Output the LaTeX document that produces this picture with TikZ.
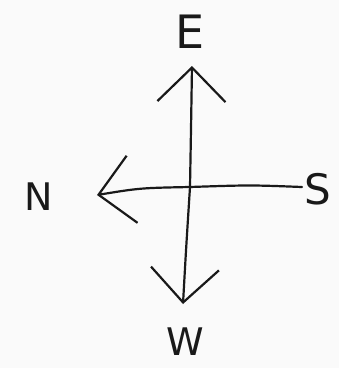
\documentclass[tikz,border=0pt]{standalone}
\usepackage{fontspec}
\setmainfont{DejaVu Sans}
\usetikzlibrary{arrows.meta}
\tikzset{
  ink/.style={draw=black!90, line width=2.2pt, line cap=round},
  compass/.style={ink, -{Straight Barb[length=34pt, width=68pt, line width=2.2pt]}},
  letter/.style={inner sep=0pt, text=black!90, font=\fontsize{40}{40}\selectfont\sffamily}
}
\begin{document}
\begin{tikzpicture}[x=1pt,y=-1pt]
  \fill[white!96!gray] (0,0) rectangle (339,368);
  \useasboundingbox (0,0) rectangle (339,368);
  % letters
  \node[letter, font=\fontsize{46}{46}\selectfont] (E) at (190,32) {E};
  \node[letter, font=\fontsize{38}{38}\selectfont] (N) at (39,197) {N};
  \node[letter, font=\fontsize{42}{42}\selectfont] (S) at (318,189) {S};
  \node[letter, font=\fontsize{38}{38}\selectfont] (W) at (185,342) {W};
  % axis ends
  \coordinate (top) at (192,66);
  \coordinate (bot) at (183,304);
  \coordinate (left) at (97,195);
  \coordinate (right) at (302,187);
  \coordinate (mid) at (190,187);
  % arrows
  \draw[compass] (mid) .. controls (191,130) .. (top);
  \draw[compass] (mid) .. controls (186,250) .. (bot);
  \draw[compass] (mid) .. controls (140,188) .. (left);
  \draw[ink] (mid) .. controls (250,185) .. (right);
\end{tikzpicture}
\end{document}
